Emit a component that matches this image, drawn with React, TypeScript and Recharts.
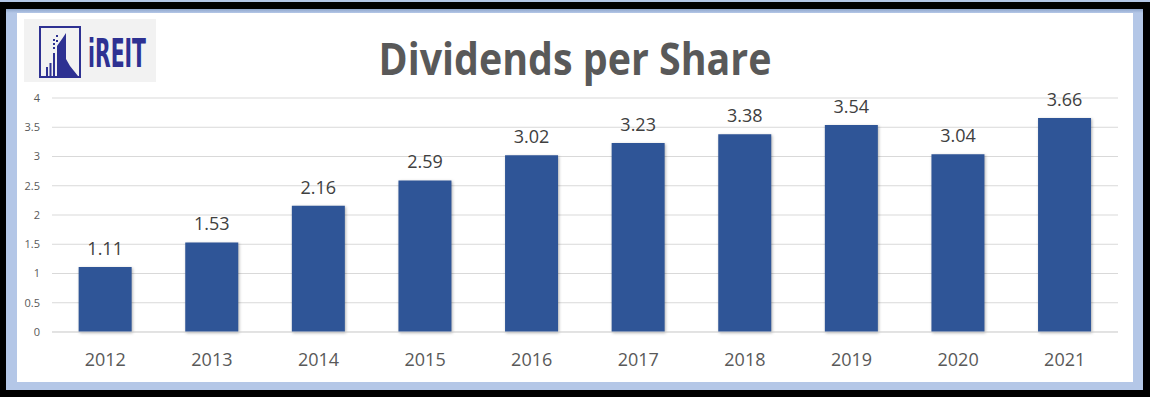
import { BarChart, Bar, XAxis, YAxis, CartesianGrid, LabelList } from "recharts";

const YEARS = ["2012", "2013", "2014", "2015", "2016", "2017", "2018", "2019", "2020", "2021"];
const DIVIDENDS = [1.11, 1.53, 2.16, 2.59, 3.02, 3.23, 3.38, 3.54, 3.04, 3.66];
const Y_TICKS = [0, 0.5, 1, 1.5, 2, 2.5, 3, 3.5, 4];

const data = YEARS.map((year, i) => ({ year, value: DIVIDENDS[i] }));

const FONT = "'Open Sans', 'Liberation Sans', sans-serif";
const NAVY = "#2e3192";

function Logo() {
  return (
    <svg width={132} height={63} style={{ position: "absolute", left: 24, top: 19 }}>
      <rect x={0} y={0} width={132} height={63} fill="#f2f2f2" />
      {/* frame */}
      <rect x={16} y={8} width={40} height={50} fill="none" stroke={NAVY} strokeWidth={2} />
      {/* small bars */}
      <rect x={22} y={48} width={2} height={9} fill={NAVY} />
      <rect x={25.5} y={44} width={2} height={13} fill={NAVY} />
      <rect x={29} y={34} width={2} height={23} fill={NAVY} />
      {/* dots */}
      <rect x={29} y={20} width={2} height={2} fill={NAVY} />
      <rect x={29} y={24} width={2} height={2} fill={NAVY} />
      <rect x={29} y={28} width={2} height={2} fill={NAVY} />
      <rect x={32} y={16} width={2} height={2} fill={NAVY} />
      <rect x={32} y={21} width={2} height={2} fill={NAVY} />
      {/* tower */}
      <path d="M33 57 L33 27 L38 20 L42 14 L42 40 L46 47 L50 52 L54 57 Z" fill={NAVY} />
      <text
        x={64}
        y={48}
        fontFamily="'DejaVu Sans Condensed', 'Liberation Sans Narrow', sans-serif"
        fontWeight={700}
        fontSize={26}
        fill={NAVY}
        textLength={58}
        lengthAdjust="spacingAndGlyphs"
        transform="translate(64 48) scale(1 1.5) translate(-64 -48)"
      >
        iREIT
      </text>
    </svg>
  );
}

export default function App() {
  return (
    <div style={{ position: "absolute", left: 0, top: 0, width: 1150, height: 397, background: "#000", overflow: "hidden" }}>
      <div style={{ position: "absolute", left: 0, top: 0, width: 1150, height: 2, background: "#b4c7e7" }} />
      <div
        style={{
          position: "absolute",
          left: 6,
          top: 9,
          width: 1137,
          height: 381,
          background: "linear-gradient(#8fa6cc 0px, #b4c7e7 4px, #b4c7e7 100%)",
        }}
      />
      <div style={{ position: "absolute", left: 17, top: 13, width: 1116, height: 369, background: "#fff" }}>
        <BarChart
          width={1116}
          height={369}
          data={data}
          margin={{ top: 85, right: 15, bottom: 0, left: 0 }}
          barCategoryGap="25%"
        >
          <CartesianGrid vertical={false} stroke="#d9d9d9" />
          <XAxis
            dataKey="year"
            axisLine={{ stroke: "#d9d9d9" }}
            tickLine={false}
            tickSize={0}
            tickMargin={21}
            height={50}
            tick={{ fill: "#595959", fontSize: 18, fontFamily: FONT }}
          />
          <YAxis
            domain={[0, 4]}
            ticks={Y_TICKS}
            width={35}
            axisLine={false}
            tickLine={false}
            tickSize={0}
            tickMargin={12}
            tick={{ fill: "#595959", fontSize: 11, fontFamily: FONT }}
          />
          <Bar
            dataKey="value"
            fill="#2f5597"
            isAnimationActive={false}
            style={{ filter: "drop-shadow(1px 1px 1.5px rgba(0,0,0,0.3))" }}
          >
            <LabelList
              dataKey="value"
              position="top"
              offset={12}
              fill="#404040"
              fontSize={18}
              fontFamily={FONT}
              formatter={(v: number) => v.toFixed(2)}
            />
          </Bar>
        </BarChart>
        <svg width={1116} height={80} style={{ position: "absolute", left: 0, top: 0 }}>
          <text
            x={558}
            y={62}
            textAnchor="middle"
            fontFamily={FONT}
            fontWeight={700}
            fontSize={44}
            fill="#595959"
            textLength={393}
            lengthAdjust="spacingAndGlyphs"
          >
            Dividends per Share
          </text>
        </svg>
      </div>
      <Logo />
    </div>
  );
}
